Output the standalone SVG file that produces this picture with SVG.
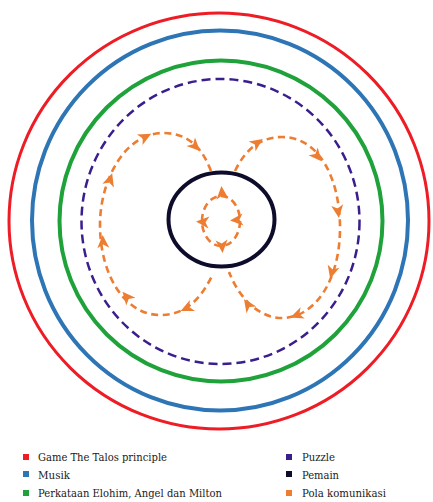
<svg xmlns="http://www.w3.org/2000/svg" width="433" height="502" viewBox="0 0 433 502">
<style>
.ring{fill:none}
.flow{fill:none;stroke:#ED7D31;stroke-width:2.6;stroke-dasharray:7 4.5}
text{font-family:'DejaVu Serif','Liberation Serif',serif;font-size:11.5px;fill:#1a1a1a}
</style>
<defs>
<path id="ah" d="M7,0 L-6,-6 L-2.5,0 L-6,6 Z" fill="#ED7D31"/>
</defs>
<rect width="433" height="502" fill="#fff"/>
<g id="game"><ellipse class="ring" cx="219" cy="221" rx="210" ry="208" stroke="#EE1C25" stroke-width="3"/></g>
<g id="musik"><ellipse class="ring" cx="220" cy="220.5" rx="188" ry="190" stroke="#2E75B6" stroke-width="4"/></g>
<g id="perkataan"><ellipse class="ring" cx="221" cy="221" rx="161.5" ry="160.5" stroke="#1FA23A" stroke-width="4"/></g>
<g id="puzzle"><ellipse class="ring" cx="220.5" cy="221.5" rx="139" ry="142.5" stroke="#3B1E8E" stroke-width="2.5" stroke-dasharray="9 5"/></g>
<g id="pemain"><ellipse class="ring" cx="221.5" cy="219.5" rx="53" ry="47" stroke="#0D0D2B" stroke-width="4"/></g>
<g id="connectors">
<path class="flow" d="M211,171 C203,150 190,133 163,133 C125,133 100,180 100,225 C100,275 125,315 160,315 C185,315 200,300 212,276"/>
<path class="flow" d="M235,171 C245,150 260,137 282,137 C320,137 340,180 340,228 C340,280 315,318 282,318 C260,318 240,300 229,272"/>
<ellipse class="flow" cx="221" cy="221" rx="19" ry="25"/>
<use href="#ah" transform="translate(195,146) rotate(45)"/>
<use href="#ah" transform="translate(145,137) rotate(-28)"/>
<use href="#ah" transform="translate(110,180) rotate(-72)"/>
<use href="#ah" transform="translate(103,242) rotate(-93)"/>
<use href="#ah" transform="translate(127,297) rotate(-130)"/>
<use href="#ah" transform="translate(187,308) rotate(155)"/>
<use href="#ah" transform="translate(257,143) rotate(-35)"/>
<use href="#ah" transform="translate(317,156) rotate(50)"/>
<use href="#ah" transform="translate(338,211) rotate(82)"/>
<use href="#ah" transform="translate(332,272) rotate(105)"/>
<use href="#ah" transform="translate(297,315) rotate(160)"/>
<use href="#ah" transform="translate(248,305) rotate(-125)"/>
<use href="#ah" transform="translate(222,193) rotate(-95)"/>
<use href="#ah" transform="translate(237,220) rotate(175)"/>
<use href="#ah" transform="translate(222,246) rotate(85)"/>
<use href="#ah" transform="translate(203,222) rotate(185)"/>
</g>
<g id="legend">
<rect x="23" y="454" width="6" height="6" fill="#EE1C25"/>
<text x="38" y="461" textLength="129" lengthAdjust="spacingAndGlyphs">Game The Talos principle</text>
<rect x="23" y="471" width="6" height="6" fill="#2E75B6"/>
<text x="38" y="479" textLength="32" lengthAdjust="spacingAndGlyphs">Musik</text>
<rect x="23" y="490" width="6" height="6" fill="#1FA23A"/>
<text x="38" y="497" textLength="184" lengthAdjust="spacingAndGlyphs">Perkataan Elohim, Angel dan Milton</text>
<rect x="286" y="454" width="6" height="6" fill="#3B1E8E"/>
<text x="302" y="461" textLength="33" lengthAdjust="spacingAndGlyphs">Puzzle</text>
<rect x="286" y="471" width="6" height="6" fill="#0D0D2B"/>
<text x="302" y="479" textLength="37" lengthAdjust="spacingAndGlyphs">Pemain</text>
<rect x="286" y="490" width="6" height="6" fill="#ED7D31"/>
<text x="302" y="497" textLength="84" lengthAdjust="spacingAndGlyphs">Pola komunikasi</text>
</g>
</svg>
